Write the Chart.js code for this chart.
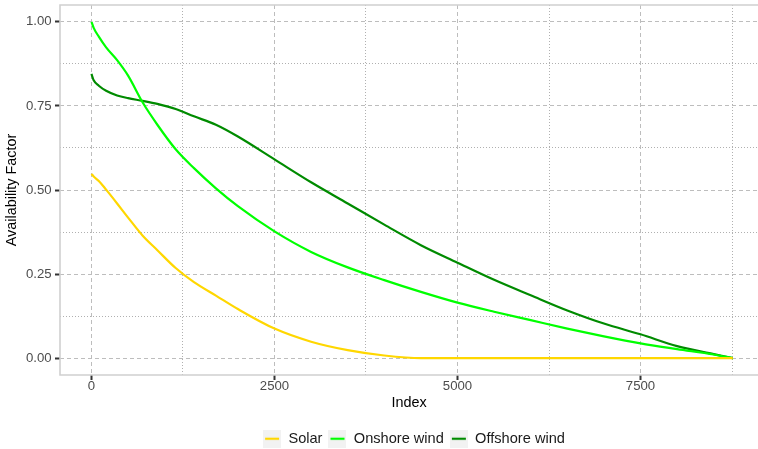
<!DOCTYPE html>
<html>
<head>
<meta charset="utf-8">
<script src="https://cdn.jsdelivr.net/npm/chart.js@4"></script>
<style>
	html, body { margin: 0; padding: 0; background: #fff; }
	canvas { display: block; }
</style>
</head>
<body>
<canvas id="chart" width="758" height="449"></canvas>
<script>
// sorted duration curves
let hours = [0, 30, 100, 200, 350, 500, 700, 900, 1150, 1400, 1700, 2000, 2500,
	3000, 3500, 4000, 4500, 5000, 5500, 6000, 6500, 7000, 7500, 8000, 8500, 8760];
let solar = [0.548, 0.540, 0.527, 0.501, 0.460, 0.418, 0.364, 0.321, 0.268, 0.226, 0.186, 0.146, 0.088,
	0.049, 0.024, 0.008, 0.000, 0.000, 0.000, 0.000, 0.000, 0.000, 0.000, 0.000, 0.000, 0.000];
let onshore = [1.000, 0.982, 0.956, 0.924, 0.886, 0.840, 0.760, 0.694, 0.621, 0.565, 0.505, 0.452, 0.377,
	0.316, 0.270, 0.232, 0.197, 0.165, 0.138, 0.113, 0.088, 0.065, 0.044, 0.027, 0.011, 0.000];
let offshore = [0.845, 0.826, 0.810, 0.795, 0.781, 0.773, 0.765, 0.756, 0.741, 0.719, 0.694, 0.659, 0.591,
	0.523, 0.460, 0.397, 0.336, 0.284, 0.233, 0.187, 0.142, 0.103, 0.071, 0.036, 0.012, 0.000];

let seriesNames = ['Solar', 'Onshore wind', 'Offshore wind'];

let xTicks = [0, 1250, 2500, 3750, 5000, 6250, 7500, 8750];
let xTickLabels = ['0', '', '2500', '', '5000', '', '7500', ''];
let yTicks = [0, 0.125, 0.25, 0.375, 0.5, 0.625, 0.75, 0.875, 1];
let yTickLabels = ['0.00', '', '0.25', '', '0.50', '', '0.75', '', '1.00'];

const FONT = "'Liberation Sans', Arial, Helvetica, sans-serif";

function legendKey(color) {
	let c = document.createElement('canvas');
	c.width = 18;
	c.height = 18;
	let g = c.getContext('2d');
	g.fillStyle = '#f2f2f2';
	g.fillRect(0, 0, 18, 18);
	g.strokeStyle = color;
	g.lineWidth = 2.2;
	g.beginPath();
	g.moveTo(2, 9);
	g.lineTo(16, 9);
	g.stroke();
	return c;
}

function makeSeries(name, values, color) {
	return {
		label: name,
		data: hours.map((h, i) => ({x: h, y: values[i]})),
		borderColor: color,
		backgroundColor: color,
		borderWidth: 2.2,
		pointRadius: 0,
		tension: 0.25,
		cubicInterpolationMode: 'monotone',
		fill: false,
		keyImage: legendKey(color)
	};
}

let isMajor = ctx => ctx.tick && ctx.tick.label !== '';

// ggplot-like panel outline (left, top, bottom; right side runs off the canvas)
let panelBorder = {
	id: 'panelBorder',
	afterDatasetsDraw(chart) {
		let {left, top, bottom} = chart.chartArea;
		let g = chart.ctx;
		g.save();
		g.strokeStyle = '#d0d0d0';
		g.lineWidth = 1.6;
		g.beginPath();
		g.moveTo(chart.width + 5, top);
		g.lineTo(left, top);
		g.lineTo(left, bottom);
		g.lineTo(chart.width + 5, bottom);
		g.stroke();
		g.restore();
	},
	afterLayout(chart) {
		// ggplot centres the legend under the full panel, which is clipped on the right
		chart.legend.left += 5;
		chart.legend.right += 5;
	}
};

function axisGrid() {
	return {
		color: ctx => isMajor(ctx) ? '#bdbdbd' : '#b0b0b0',
		lineWidth: 1,
		drawTicks: true,
		tickLength: 5,
		tickWidth: 2,
		tickColor: ctx => isMajor(ctx) ? '#333333' : 'rgba(0,0,0,0)',
		tickBorderDash: []
	};
}

function axisBorder() {
	return {
		display: false,
		dash: ctx => ctx.tick ? (isMajor(ctx) ? [4, 3] : [1, 2]) : []
	};
}

function main() {
	let ctx = document.getElementById('chart').getContext('2d');
	new Chart(ctx, {
		type: 'line',
		data: {
			datasets: [
				makeSeries(seriesNames[0], solar, '#ffd700'),
				makeSeries(seriesNames[1], onshore, '#00ff00'),
				makeSeries(seriesNames[2], offshore, '#008b00')
			]
		},
		options: {
			responsive: false,
			animation: false,
			devicePixelRatio: 1,
			layout: {padding: {top: 5, right: 0, left: 0, bottom: -7}},
			plugins: {
				tooltip: {enabled: false},
				legend: {
					position: 'bottom',
					align: 'center',
					fullSize: false,
					labels: {
						usePointStyle: true,
						pointStyleWidth: 18,
						padding: 6,
						color: '#1a1a1a',
						font: {family: FONT, size: 14.6},
						generateLabels: chart => chart.data.datasets.map((ds, i) => ({
							text: ds.label,
							pointStyle: ds.keyImage,
							fillStyle: ds.borderColor,
							strokeStyle: ds.borderColor,
							lineWidth: 0,
							hidden: false,
							datasetIndex: i,
							fontColor: '#1a1a1a'
						}))
					}
				}
			},
			scales: {
				x: {
					type: 'linear',
					min: -430,
					max: 9105,
					afterBuildTicks: s => { s.ticks = xTicks.map(v => ({value: v})); },
					afterFit: s => {
						s.height = 50.4;
						s.paddingLeft = 0;
						s.paddingRight = 0;
					},
					ticks: {
						autoSkip: false,
						maxRotation: 0,
						padding: 0,
						color: '#4d4d4d',
						font: {family: FONT, size: 13.2, lineHeight: 1},
						callback: (v, i) => xTickLabels[i]
					},
					grid: axisGrid(),
					border: axisBorder(),
					title: {
						display: true,
						text: 'Index',
						color: '#000000',
						font: {family: FONT, size: 14.4},
						padding: {top: 0, bottom: 13.5}
					}
				},
				y: {
					type: 'linear',
					min: -0.05,
					max: 1.05,
					afterBuildTicks: s => { s.ticks = yTicks.map(v => ({value: v})); },
					afterFit: s => {
						s.width = 60;
						s.paddingTop = 0;
						s.paddingBottom = 0;
					},
					ticks: {
						autoSkip: false,
						padding: 3.3,
						color: '#4d4d4d',
						font: {family: FONT, size: 13.2, lineHeight: 1},
						callback: (v, i) => yTickLabels[i]
					},
					grid: axisGrid(),
					border: axisBorder(),
					title: {
						display: true,
						text: 'Availability Factor',
						color: '#000000',
						font: {family: FONT, size: 14.4},
						padding: {top: 3.5, bottom: 0}
					}
				}
			}
		},
		plugins: [panelBorder]
	});
}

main();
</script>
</body>
</html>
